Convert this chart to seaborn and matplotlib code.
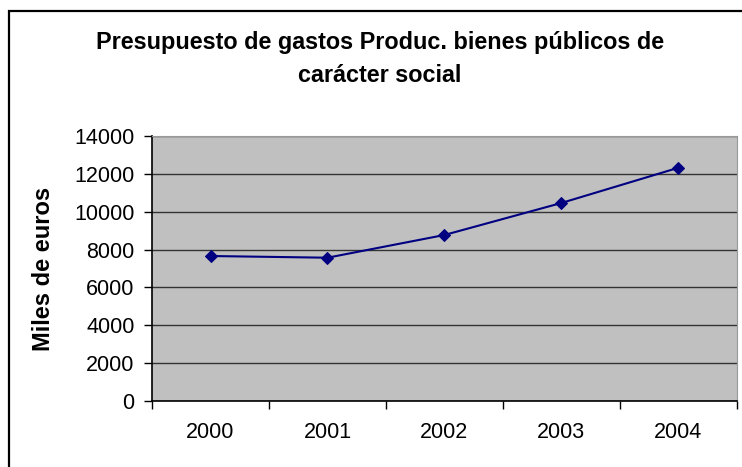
import pandas as pd
import matplotlib.pyplot as plt
import matplotlib.patches as mpatches
import seaborn as sns

# Data
years = ['2000', '2001', '2002', '2003', '2004']
gastos = [7660, 7570, 8770, 10460, 12320]

sns.set_style('white')
plt.rcParams['font.family'] = ['Liberation Sans', 'DejaVu Sans']
plt.rcParams['text.color'] = 'black'
plt.rcParams['axes.labelcolor'] = 'black'
plt.rcParams['xtick.color'] = 'black'
plt.rcParams['ytick.color'] = 'black'

df = pd.DataFrame({'pos': range(len(years)), 'gastos': gastos})

fig = plt.figure(figsize=(7.42, 4.67), dpi=100)
ax = fig.add_axes([0.2049, 0.1413, 0.788, 0.5675])
ax.set_facecolor('#C0C0C0')

# Line with diamond markers
sns.lineplot(data=df, x='pos', y='gastos', ax=ax, color='#000080', linewidth=1.5,
             marker='D', markersize=6, markeredgecolor='#000080')

ax.set_xlim(-0.5, len(years) - 0.5)
ax.set_ylim(0, 14000)
ax.set_yticks(range(0, 14001, 2000))
ax.yaxis.grid(True, color='#333333', linewidth=1)
ax.set_axisbelow(True)

# Year labels at centres, tick marks between categories
ax.set_xticks(range(len(years)))
ax.set_xticklabels(years)
ax.set_xticks([i + 0.5 for i in range(-1, len(years))], minor=True)
ax.tick_params(axis='x', which='major', length=0, pad=15, labelsize=15.5)
ax.tick_params(axis='x', which='minor', length=6, width=1, color='black', direction='out', bottom=True)
ax.tick_params(axis='y', length=6, width=1, color='black', direction='out', left=True, pad=6.5, labelsize=15.5)

for side in ['left', 'bottom']:
    ax.spines[side].set_color('black')
    ax.spines[side].set_linewidth(1.2)
for side in ['top', 'right']:
    ax.spines[side].set_color('#999999')
    ax.spines[side].set_linewidth(0.8)

ax.set_xlabel('')
ax.set_ylabel('Miles de euros', fontsize=17, fontweight='bold')
ax.yaxis.set_label_coords(-0.166, 0.5)

fig.text(0.512, 1 - 59 / 467, 'Presupuesto de gastos Produc. bienes públicos de\ncarácter social',
         ha='center', va='center', fontsize=16.8, fontweight='bold', linespacing=1.6)

# Outer chart frame (cut off at right and bottom)
frame = mpatches.Rectangle((9 / 742, -0.1), 1.2, 1.1 - 11 / 467, transform=fig.transFigure,
                           fill=False, edgecolor='black', linewidth=1.6, clip_on=False)
fig.patches.append(frame)

plt.savefig('out.png', dpi=100)
